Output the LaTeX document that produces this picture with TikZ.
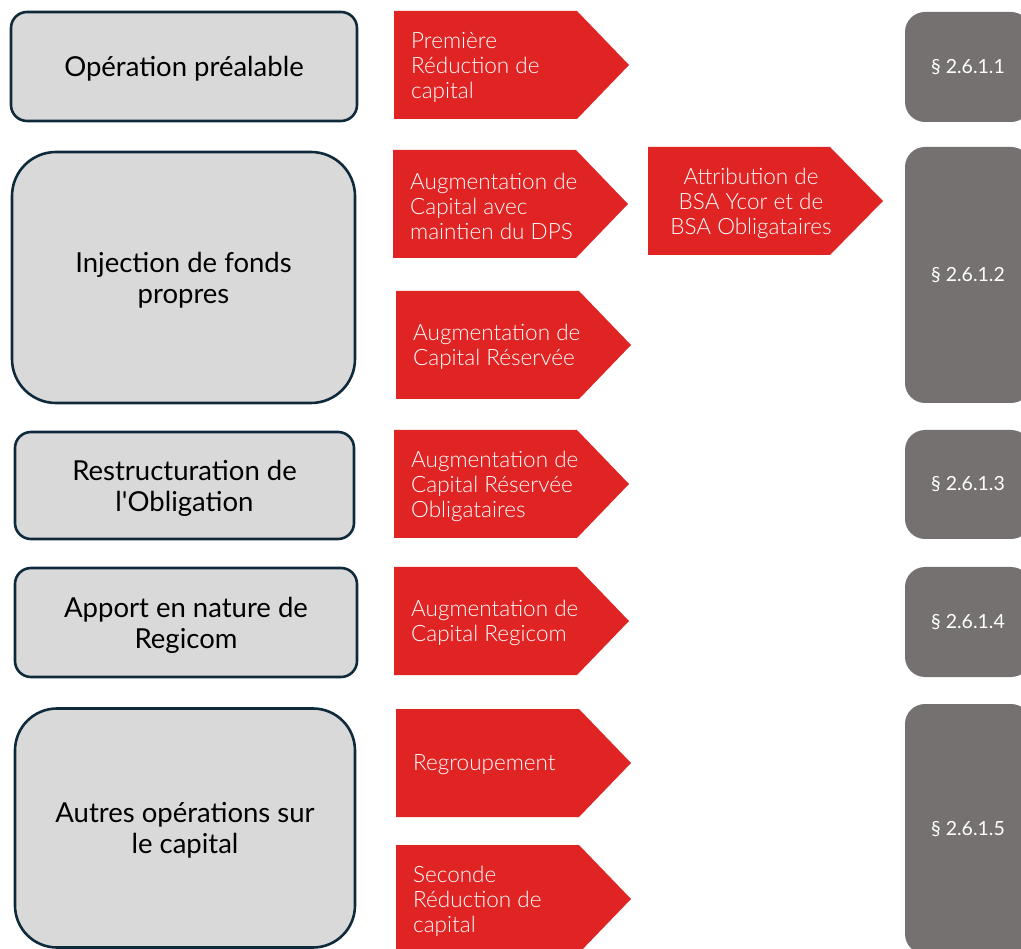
\documentclass[tikz,border=0pt]{standalone}
\usepackage{fontspec}
\setmainfont{Lato}
\newfontfamily\lightfont{Lato Light}
\usepackage{tikz}
\usetikzlibrary{positioning}

\definecolor{boxgray}{HTML}{D9D9D9}
\definecolor{boxnavy}{HTML}{0E2A3B}
\definecolor{arrowred}{HTML}{E02424}
\definecolor{refgray}{HTML}{767171}

\tikzset{
  opbox/.style={draw=boxnavy, line width=2.6pt, fill=boxgray, rounded corners=16pt,
    inner sep=0pt},
  optext/.style={align=center, inner sep=0pt, yshift=-2.5pt,
    font=\fontsize{27.5}{31}\selectfont},
  steptext/.style={text=white, align=left, inner sep=0pt, anchor=west,
    font=\lightfont\fontsize{22.5}{25}\selectfont},
  refbox/.style={fill=refgray, rounded corners=20pt, minimum width=126pt,
    inner sep=0pt, text=white, font=\fontsize{19.5}{20}\selectfont}
}

\begin{document}
\begin{tikzpicture}[x=1pt, y=-1pt]

  \useasboundingbox (0,0) rectangle (1021,949);

  % left column: operations
  \node[opbox, minimum width=346pt, minimum height=109pt] (prealable) at (184,66.5) {};
  \node[optext] (prealable-txt) at (prealable.center) {Opération préalable};
  \node[opbox, minimum width=343pt, minimum height=251pt, rounded corners=44pt] (injection) at (183.5,277.5) {};
  \node[optext] (injection-txt) at (injection.center) {Injection de fonds\\propres};
  \node[opbox, minimum width=339pt, minimum height=107pt] (restructuration) at (184.5,485.5) {};
  \node[optext] (restructuration-txt) at (restructuration.center) {Restructuration de\\l\textquotesingle Obligation};
  \node[opbox, minimum width=342pt, minimum height=109pt] (apport) at (186,622.5) {};
  \node[optext] (apport-txt) at (apport.center) {Apport en nature de\\Regicom};
  \node[opbox, minimum width=340pt, minimum height=239pt, rounded corners=42pt] (autres) at (185,828) {};
  \node[optext] (autres-txt) at (autres.center) {Autres opérations sur\\le capital};

  % middle column: red arrows
  \foreach \name/\x/\y/\txt in {
      premiere/394/11/{Première\\Réduction de\\capital},
      dps/393/150/{Augmentation de\\Capital avec\\maintien du DPS},
      reservee/396/291/{Augmentation de\\Capital Réservée},
      obligataires/394/430/{Augmentation de\\Capital Réservée\\Obligataires},
      regicom/394/567/{Augmentation de\\Capital Regicom},
      regroupement/396/709/{Regroupement},
      seconde/396/845/{Seconde\\Réduction de\\capital}} {
    \fill[arrowred] (\x,\y) -- ++(183,0) -- ++(52,54) -- ++(-52,54) -- ++(-183,0) -- cycle;
    \node[steptext] (\name) at (\x+17,\y+56) {\txt};
  }

  % BSA
  \fill[arrowred] (648,147) -- (830,147) -- (883,201) -- (830,255) -- (648,255) -- cycle;
  \node[steptext, align=center, anchor=center] (bsa) at (751,203) {Attribution de\\BSA Ycor et de\\BSA Obligataires};

  % right column: references
  \node[refbox, minimum height=110pt] (ref1) at (968,67) {\S~2.6.1.1};
  \node[refbox, minimum height=256pt] (ref2) at (968,275) {\S~2.6.1.2};
  \node[refbox, minimum height=109pt] (ref3) at (968,484.5) {\S~2.6.1.3};
  \node[refbox, minimum height=110pt] (ref4) at (968,622) {\S~2.6.1.4};
  \node[refbox, minimum height=250pt] (ref5) at (968,829) {\S~2.6.1.5};

\end{tikzpicture}
\end{document}
